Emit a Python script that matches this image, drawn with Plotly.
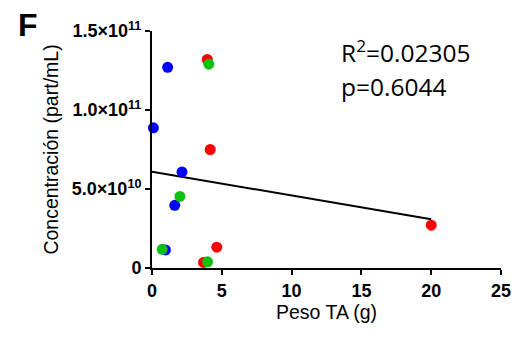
import plotly.graph_objects as go

# Data
blue_x = [1.12, 0.10, 2.15, 1.63, 0.96]
blue_y = [1.27e11, 0.887e11, 0.608e11, 0.397e11, 0.114e11]
red_x = [3.96, 4.17, 4.64, 3.69, 20.0]
red_y = [1.32e11, 0.75e11, 0.132e11, 0.035e11, 0.271e11]
green_x = [4.07, 2.00, 0.73, 3.98]
green_y = [1.29e11, 0.453e11, 0.118e11, 0.039e11]
fit_x = [0.0, 20.0]
fit_y = [6.10e10, 3.08e10]

y_tickvals = [0, 5e10, 1e11, 1.5e11]
y_ticktext = ["0", "5.0×10<sup>10</sup>", "1.0×10<sup>11</sup>", "1.5×10<sup>11</sup>"]
x_tickvals = [0, 5, 10, 15, 20, 25]

fig = go.Figure()
fig.add_trace(go.Scatter(x=fit_x, y=fit_y, mode="lines",
                         line=dict(color="black", width=2), showlegend=False, cliponaxis=False))
for xs, ys, col in [(blue_x, blue_y, "#0000FF"), (red_x, red_y, "#FF0000"), (green_x, green_y, "#10C010")]:
    fig.add_trace(go.Scatter(x=xs, y=ys, mode="markers",
                             marker=dict(color=col, size=11, line=dict(width=0)),
                             showlegend=False, cliponaxis=False))

axfont = dict(family="Liberation Sans, Arial", size=18, color="black", weight="bold")
titlefont = dict(family="Liberation Sans, Arial", size=19.5, color="black")
PX0, PY0, PW, PH = 152, 273, 359, 242  # plot area in page pixels (page has 8px body margin)

fig.update_layout(
    width=514, height=321,
    margin=dict(l=144, r=11, t=23, b=56),
    paper_bgcolor="white", plot_bgcolor="white",
    xaxis=dict(range=[0, 25], tickvals=x_tickvals, showgrid=False, zeroline=False,
               showline=True, linecolor="black", linewidth=2,
               ticks="outside", ticklen=5, tickwidth=2, tickcolor="black",
               tickfont=axfont,
               title=dict(text="Peso TA (g)", font=titlefont, standoff=4)),
    yaxis=dict(range=[0, 1.5e11], tickvals=y_tickvals, ticktext=y_ticktext, showgrid=False, zeroline=False,
               showline=True, linecolor="black", linewidth=2,
               ticks="outside", ticklen=5, tickwidth=2, tickcolor="black",
               tickfont=axfont,
               title=dict(text="Concentración (part/mL)", font=titlefont, standoff=8)),
    annotations=[
        dict(text="<b>F</b>", xref="paper", yref="paper", x=(12 - PX0) / PW, y=(PY0 - 4) / PH,
             xanchor="left", yanchor="top", showarrow=False,
             font=dict(family="Liberation Sans, Arial", size=32, color="black")),
        dict(text="R<sup>2</sup>=0.02305", xref="paper", yref="paper", x=(344 - PX0) / PW, y=(PY0 - 52) / PH,
             xanchor="left", yanchor="middle", showarrow=False,
             font=dict(family="Open Sans", size=24.5, color="black")),
        dict(text="p=0.6044", xref="paper", yref="paper", x=(344 - PX0) / PW, y=(PY0 - 88) / PH,
             xanchor="left", yanchor="middle", showarrow=False,
             font=dict(family="Open Sans", size=24.5, color="black")),
    ],
)
fig.write_html("out.html")
